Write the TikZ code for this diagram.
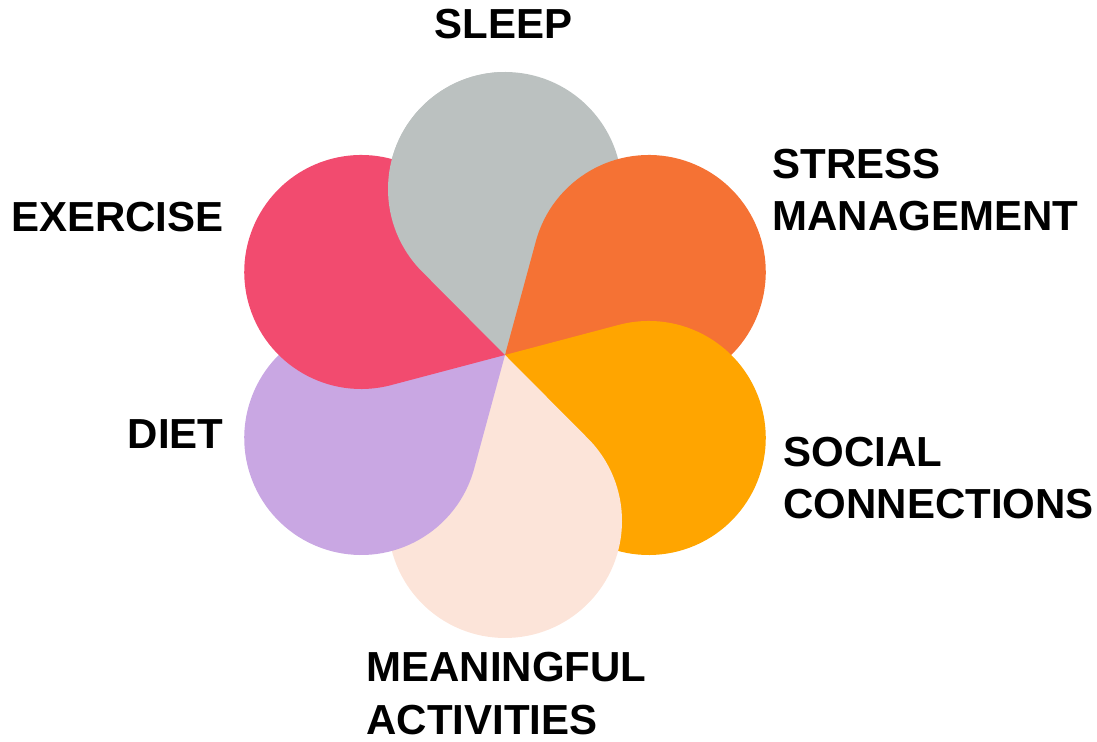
\documentclass[tikz,border=0pt]{standalone}
\usepackage{fontspec}
\setmainfont{Liberation Sans}
\definecolor{sleepgray}{RGB}{187,193,192}
\definecolor{stressorange}{RGB}{245,114,52}
\definecolor{socialyellow}{RGB}{255,165,0}
\definecolor{meaningpeach}{RGB}{252,228,217}
\definecolor{dietlavender}{RGB}{201,167,227}
\definecolor{exercisepink}{RGB}{242,75,111}
% petal geometry: circle radius, distance of its centre from the tip
\def\petalR{117}
\def\petalD{166}
\pgfmathsetmacro\petalA{asin(\petalR/\petalD)}
\pgfmathsetmacro\petalL{\petalD*cos(\petalA)}
% #1 = direction of the petal axis, #2 = fill colour
\newcommand\drawpetal[2]{%
  \begin{scope}[shift={(tip)}, rotate=#1]
    \fill[#2] (0,0) -- (\petalA:\petalL)
      arc[start angle=90+\petalA, end angle=-90-\petalA, radius=\petalR] -- cycle;
  \end{scope}}
\begin{document}
\begin{tikzpicture}[x=0.5pt, y=0.5pt,
  label/.style={font=\bfseries\fontsize{21}{25}\selectfont, inner sep=0pt, text=black}]
\useasboundingbox (0,0) rectangle (1097,742);
\coordinate (tip) at (505,387);
% petals, each lying over its clockwise neighbour
\drawpetal{90}{sleepgray}
\drawpetal{30}{stressorange}
\drawpetal{-30}{socialyellow}
\drawpetal{-90}{meaningpeach}
\drawpetal{-150}{dietlavender}
\drawpetal{150}{exercisepink}
% left half of the sleep petal goes back over the exercise petal
\begin{scope}
  \clip (0,0) rectangle (505,742);
  \drawpetal{90}{sleepgray}
\end{scope}
% labels
\node[label, anchor=base west] (sleep) at (434,703) {SLEEP};
\node[label, anchor=base west] (stress1) at (772,563) {STRESS};
\node[label, anchor=base west] (stress2) at (772,511) {MANAGEMENT};
\node[label, anchor=base west] (social1) at (783,275) {SOCIAL};
\node[label, anchor=base west] (social2) at (783,223) {CONNECTIONS};
\node[label, anchor=base west] (mean1) at (366,60) {MEANINGFUL};
\node[label, anchor=base west] (mean2) at (366,7) {ACTIVITIES};
\node[label, anchor=base east] (exercise) at (224,510) {EXERCISE};
\node[label, anchor=base east] (diet) at (224,293) {DIET};
\end{tikzpicture}
\end{document}
